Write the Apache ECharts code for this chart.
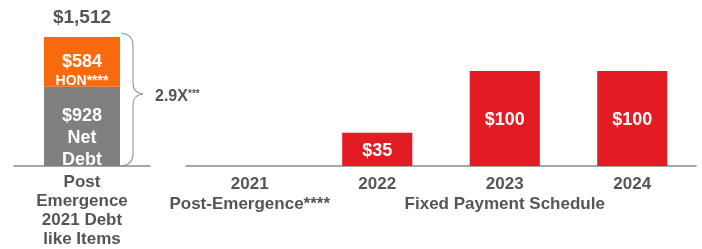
<!DOCTYPE html>
<html>
<head>
<meta charset="utf-8">
<script src="https://cdn.jsdelivr.net/npm/echarts@6/dist/echarts.min.js"></script>
<style>
html,body{margin:0;padding:0;background:#fff;}
#c{width:702px;height:249px;}
</style>
</head>
<body>
<div id="c"></div>
<script>
// ---- data ----
var leftCategories = ['Post\nEmergence\n2021 Debt\nlike Items'];
var netDebt = [928];
var hon = [584];
var leftTotal = [1512];
var rightCategories = ['2021\nPost-Emergence****', '2022', '2023\nFixed Payment Schedule', '2024'];
var payments = [0, 35, 100, 100];
var ratioLabel = '2.9X';

var txt = '#555555';
var font = '"Liberation Sans", Arial, sans-serif';
var braceStyle = {fill: 'none', stroke: '#9a9a9a', lineWidth: 1.2};

var chart = echarts.init(document.getElementById('c'));
chart.setOption({
  animation: false,
  textStyle: {fontFamily: font},
  grid: [
    {left: 14, width: 136, top: 10, bottom: 83},
    {left: 186, width: 510, top: 10, bottom: 83}
  ],
  xAxis: [
    {type: 'category', gridIndex: 0, data: leftCategories,
     axisLine: {lineStyle: {color: '#8a8a8a', width: 1.5}}, axisTick: {show: false},
     axisLabel: {interval: 0, color: txt, fontSize: 17, fontWeight: 'bold', lineHeight: 19, margin: 7, fontFamily: font}},
    {type: 'category', gridIndex: 1, data: rightCategories,
     axisLine: {lineStyle: {color: '#8a8a8a', width: 1.5}}, axisTick: {show: false},
     axisLabel: {interval: 0, hideOverlap: false, color: txt, fontSize: 17, fontWeight: 'bold', lineHeight: 20, margin: 8, fontFamily: font}}
  ],
  yAxis: [
    {type: 'value', gridIndex: 0, min: 0, max: 1829, show: false},
    {type: 'value', gridIndex: 1, min: 0, max: 164, show: false}
  ],
  series: [
    {type: 'bar', xAxisIndex: 0, yAxisIndex: 0, stack: 'a', data: netDebt, barWidth: 76,
     itemStyle: {color: '#7f7f7f'},
     label: {show: true, position: 'inside', offset: [0, 12], color: '#fff', fontWeight: 'bold', fontSize: 18, lineHeight: 22, fontFamily: font,
       formatter: function (p) { return '$' + p.value + '\nNet\nDebt'; }}},
    {type: 'bar', xAxisIndex: 0, yAxisIndex: 0, stack: 'a', data: hon, barWidth: 76,
     itemStyle: {color: '#f9690e'},
     label: {show: true, position: 'inside', offset: [0, 9], color: '#fff', fontFamily: font,
       formatter: function (p) { return '{a|$' + p.value + '}\n{b|HON****}'; },
       rich: {a: {fontSize: 18, fontWeight: 'bold', color: '#fff', lineHeight: 20, fontFamily: font},
              b: {fontSize: 14, fontWeight: 'bold', color: '#fff', lineHeight: 18, fontFamily: font}}}},
    {type: 'bar', xAxisIndex: 0, yAxisIndex: 0, stack: 'a', data: [0], barWidth: 76,
     itemStyle: {color: 'transparent'},
     label: {show: true, position: 'top', distance: 10, color: txt, fontWeight: 'bold', fontSize: 19, fontFamily: font,
       formatter: function () { return '$' + leftTotal[0].toLocaleString('en-US'); }}},
    {type: 'bar', xAxisIndex: 1, yAxisIndex: 1, data: payments, barWidth: '55%',
     itemStyle: {color: '#e31b23'},
     label: {show: true, position: 'inside', offset: [0, 2], color: '#fff', fontWeight: 'bold', fontSize: 18, fontFamily: font,
       formatter: function (p) { return p.value ? '$' + p.value : ''; }}}
  ],
  graphic: [
    {type: 'bezierCurve', shape: {x1: 121, y1: 33, cpx1: 133, cpy1: 34, x2: 133, y2: 46}, style: braceStyle},
    {type: 'line', shape: {x1: 133, y1: 46, x2: 133, y2: 83}, style: braceStyle},
    {type: 'bezierCurve', shape: {x1: 133, y1: 83, cpx1: 133, cpy1: 93, x2: 143, y2: 94}, style: braceStyle},
    {type: 'bezierCurve', shape: {x1: 143, y1: 94, cpx1: 133, cpy1: 95, x2: 133, y2: 105}, style: braceStyle},
    {type: 'line', shape: {x1: 133, y1: 105, x2: 133, y2: 153}, style: braceStyle},
    {type: 'bezierCurve', shape: {x1: 133, y1: 153, cpx1: 133, cpy1: 165, x2: 121, y2: 166}, style: braceStyle},
    {type: 'text', x: 155, y: 89,
     style: {text: ratioLabel, fill: txt, font: 'bold 16px "Liberation Sans", Arial, sans-serif'}},
    {type: 'text', x: 188, y: 89,
     style: {text: '***', fill: txt, font: 'bold 10px "Liberation Sans", Arial, sans-serif'}}
  ]
});
</script>
</body>
</html>
